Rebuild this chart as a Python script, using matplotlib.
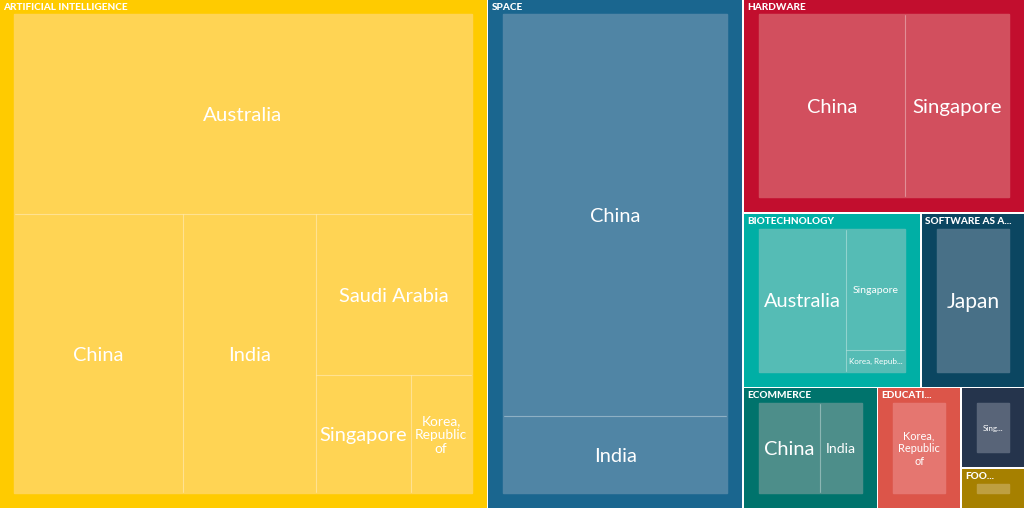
import matplotlib
matplotlib.use("Agg")
import matplotlib.pyplot as plt
from matplotlib.patches import Rectangle

plt.rcParams['font.family'] = ['Lato', 'DejaVu Sans']

# sectors, values (area share, thousands)
group_labels = ["ARTIFICIAL INTELLIGENCE", "SPACE", "HARDWARE", "BIOTECHNOLOGY", "SOFTWARE AS A...",
                "ECOMMERCE", "EDUCATI...", "", "FOO..."]
group_values = [249.6, 130.4, 60.55, 31.0, 18.05, 16.3, 10.15, 5.15, 2.6]
group_colors = ["#FFCB00", "#1A668F", "#C20E2E", "#00AFA5", "#0B4661", "#00736C", "#DC5549", "#25344C", "#A68000"]
inner_colors = ["#FFD454", "#5085A5", "#D24F5E", "#55BCB5", "#487087", "#4D8E8A", "#E57670", "#586478", "#BE9F40"]

ai_names = ["Australia", "China", "India", "Saudi Arabia", "Singapore", "Korea,\nRepublic\nof"]
ai_values = [91.6, 47.2, 37.1, 25.1, 11.2, 7.2]
space_names = ["China", "India"]
space_values = [90.0, 17.2]
hardware_names = ["China", "Singapore"]
hardware_values = [27.0, 19.1]
biotech_names = ["Australia", "Singapore", "Korea, Repub..."]
biotech_values = [12.5, 7.1, 1.3]
saas_names = ["Japan"]
saas_values = [10.4]
ecommerce_names = ["China", "India"]
ecommerce_values = [5.55, 3.82]
education_names = ["Korea,\nRepublic\nof"]
education_values = [4.8]
other_names = ["Sing..."]
other_values = [1.65]
food_names = [""]
food_values = [0.33]

child_names = [ai_names, space_names, hardware_names, biotech_names, saas_names,
               ecommerce_names, education_names, other_names, food_names]
child_values = [ai_values, space_values, hardware_values, biotech_values, saas_values,
                ecommerce_values, education_values, other_values, food_values]

# label size in pixels for each child
child_px = [[20.5, 20, 20, 20, 20, 13.7], [20, 20], [20, 20.5], [20, 10.5, 8], [21], [20, 14], [11], [8], [8]]

# how the boxes nest, each level splits the other way
group_tree = [0, 1, [2, [3, 4], [5, 6, [7, 8]]]]
child_trees = [
    ([0, [1, 2, [3, [4, 5]]]], True),
    ([0, 1], True),
    ([0, 1], False),
    ([0, [1, 2]], False),
    ([0], False),
    ([0, 1], False),
    ([0], False),
    ([0], False),
    ([0], False),
]

GAP = 1.5
PAD = 15


def node_total(node, values):
    if isinstance(node, int):
        return values[node]
    return sum(node_total(n, values) for n in node)


def layout(box, node, values, split_y, out):
    # plain slice and dice over the nesting above
    x, y, w, h = box
    if isinstance(node, int):
        out[node] = box
        return
    total = node_total(node, values)
    for n in node:
        part = node_total(n, values) / total
        if split_y:
            layout((x, y, w, h * part), n, values, not split_y, out)
            y += h * part
        else:
            layout((x, y, w * part, h), n, values, not split_y, out)
            x += w * part


fig = plt.figure(figsize=(10.24, 5.09), dpi=100, facecolor="white")
ax = fig.add_axes([0, 0, 1, 1])
ax.set_xlim(0, 1024)
ax.set_ylim(509, 0)
ax.axis("off")

group_boxes = {}
layout((-1.75, -1.75, 1026.5, 510.5), group_tree, group_values, False, group_boxes)

for g in range(len(group_values)):
    x, y, w, h = group_boxes[g]
    x0, y0, w0, h0 = x + GAP / 2, y + GAP / 2, w - GAP, h - GAP
    ax.add_patch(Rectangle((x0, y0), w0, h0, facecolor=group_colors[g], edgecolor="none"))
    ax.text(max(x0, 0) + 3.2, max(y0, 0) + 7.5, group_labels[g], color="white", fontsize=10 * 0.72, fontweight=900,
            va="center", ha="left")

    inner = (x0 + PAD, y0 + PAD, w0 - 2 * PAD, h0 - 2 * PAD)
    ax.add_patch(Rectangle(inner[:2], inner[2], inner[3], facecolor=inner_colors[g], edgecolor="none"))

    boxes = {}
    tree, split_y = child_trees[g]
    layout(inner, tree, child_values[g], split_y, boxes)
    for i, name in enumerate(child_names[g]):
        cx, cy, cw, ch = boxes[i]
        px = child_px[g][i]
        ax.add_patch(Rectangle((cx, cy), cw, ch, facecolor="none", edgecolor=(1, 1, 1, 0.2), linewidth=0.8))
        ax.text(cx + cw / 2, cy + ch / 2 + px * 0.08, name, color="white", fontsize=px * 0.72,
                ha="center", va="center", linespacing=1.2)
    # hide the separator line on the outside of the block
    ax.add_patch(Rectangle(inner[:2], inner[2], inner[3], facecolor="none", edgecolor=inner_colors[g], linewidth=1.0))

fig.savefig("out.png", dpi=100)
